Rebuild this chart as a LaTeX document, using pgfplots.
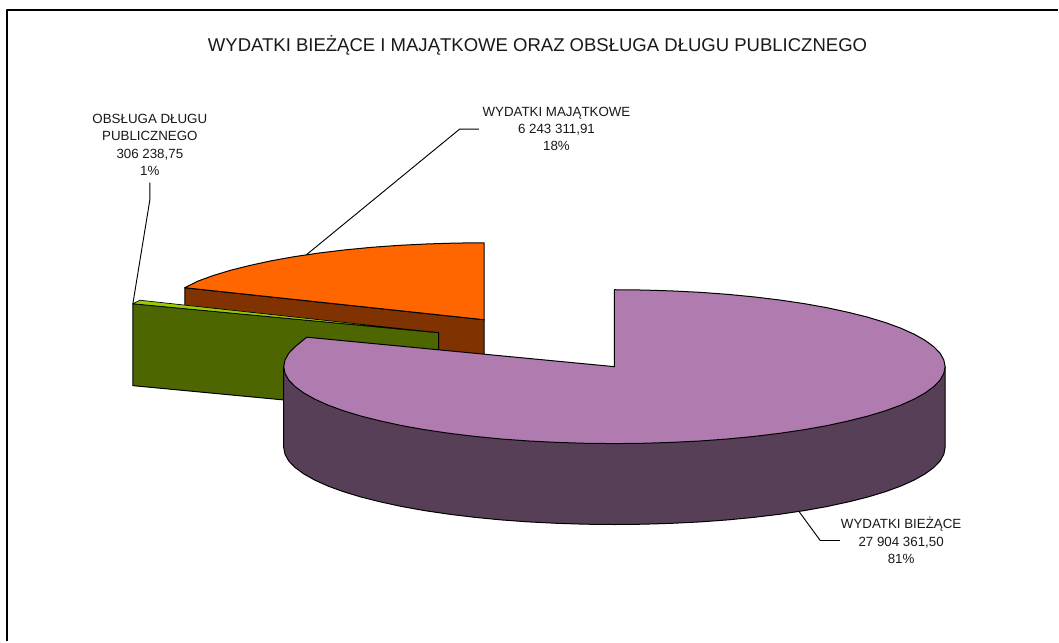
\documentclass[border=0pt]{standalone}
\usepackage{pgfplots}
\pgfplotsset{compat=1.18}
\usepackage{fontspec}
\setmainfont{Liberation Sans}
\definecolor{purpleT}{HTML}{B07CAF}
\definecolor{purpleS}{HTML}{583F58}
\definecolor{orangeT}{HTML}{FF6600}
\definecolor{orangeS}{HTML}{803300}
\definecolor{greenT}{HTML}{99CC00}
\definecolor{greenS}{HTML}{4D6600}
\newcommand{\lab}{\fontsize{10bp}{13.1bp}\selectfont}
\begin{document}
\begin{tikzpicture}
\begin{axis}[
  scale only axis, width=794.25bp, height=481.5bp,
  xmin=0, xmax=1059, ymin=0, ymax=642, y dir=reverse,
  hide axis, clip=false,
  every axis plot/.append style={line join=round},
]
% page extent
\addplot[draw=none, fill=white] coordinates {(0,0) (1059,0) (1059,642) (0,642)} --cycle;
% frame
\addplot[black, line width=1.5bp] coordinates {(7,642) (7,10) (1059,10)};
% orange side
\addplot[draw=black, fill=orangeS, line width=0.75bp] coordinates {(185,288) (484.5,320) (484.5,400) (185,368)} --cycle;
% orange top
\addplot[draw=black, fill=orangeT, line width=0.75bp] coordinates {(484.5,320) (484.5,243) (455.7,243.3) (427,244.2) (398.8,245.6) (371.3,247.6) (344.6,250.2) (319,253.3) (294.6,256.9) (271.7,261) (250.5,265.6) (230.9,270.5) (213.4,275.8) (197.8,281.5) (185,288)} --cycle;
% green side
\addplot[draw=black, fill=greenS, line width=0.75bp] coordinates {(133,304) (439,333) (439,415) (133,386)} --cycle;
% green top
\addplot[draw=black, fill=greenT, line width=0.5bp] coordinates {(133,304) (140,300.5) (439,333)} --cycle;
% purple side
\addplot[draw=black, fill=purpleS, line width=0.75bp] coordinates {(946,367) (946,448) (944.7,454.7) (941,461.4) (934.7,467.9) (926,474.3) (915,480.5) (901.7,486.5) (886.1,492.2) (868.6,497.5) (849,502.4) (827.8,507) (804.9,511.1) (780.5,514.7) (754.9,517.8) (728.2,520.4) (700.7,522.4) (672.5,523.8) (643.8,524.7) (615,525) (586.2,524.7) (557.5,523.8) (529.3,522.4) (501.8,520.4) (475.1,517.8) (449.5,514.7) (425.1,511.1) (402.2,507) (381,502.4) (361.4,497.5) (343.9,492.2) (328.3,486.5) (315,480.5) (304,474.3) (295.3,467.9) (289,461.4) (285.3,454.7) (284,448) (284,367)} --cycle;
% purple top
\addplot[draw=black, fill=purpleT, line width=0.75bp] coordinates {(615,367) (615,290) (643.8,290.3) (672.5,291.2) (700.7,292.6) (728.2,294.6) (754.9,297.2) (780.5,300.3) (804.9,303.9) (827.8,308) (849,312.6) (868.6,317.5) (886.1,322.8) (901.7,328.5) (915,334.5) (926,340.7) (934.7,347.1) (941,353.6) (944.7,360.3) (946,367) (944.7,373.7) (941,380.4) (934.7,386.9) (926,393.3) (915,399.5) (901.7,405.5) (886.1,411.2) (868.6,416.5) (849,421.4) (827.8,426) (804.9,430.1) (780.5,433.7) (754.9,436.8) (728.2,439.4) (700.7,441.4) (672.5,442.8) (643.8,443.7) (615,444) (586.2,443.7) (557.5,442.8) (529.3,441.4) (501.8,439.4) (475.1,436.8) (449.5,433.7) (425.1,430.1) (402.2,426) (381,421.4) (361.4,416.5) (343.9,411.2) (328.3,405.5) (315,399.5) (304,393.3) (295.3,386.9) (289,380.4) (285.3,373.7) (284,367) (285.3,360.3) (289,353.6) (295.3,347.1) (307,337.5)} --cycle;
% leaders
\addplot[black, line width=0.7bp] coordinates {(306.7,255) (460,129.3) (479.3,129.3)};
\addplot[black, line width=0.7bp] coordinates {(150,182.7) (150,200) (133,304)};
\addplot[black, line width=0.7bp] coordinates {(800,512.3) (821,541) (840.7,541)};
% text
\node[font=\fontsize{13.9bp}{16bp}\selectfont, text=black!90] at (axis cs:538,45) {WYDATKI BIEŻĄCE I MAJĄTKOWE ORAZ OBSŁUGA DŁUGU PUBLICZNEGO};
\node[font=\lab, align=center, inner sep=0pt, text=black!90] at (axis cs:557,129) {WYDATKI MAJĄTKOWE\\6 243 311,91\\18\%};
\node[font=\lab, align=center, inner sep=0pt, text=black!90] at (axis cs:150,145) {OBSŁUGA DŁUGU\\PUBLICZNEGO\\306 238,75\\1\%};
\node[font=\lab, align=center, inner sep=0pt, text=black!90] at (axis cs:902,541) {WYDATKI BIEŻĄCE\\27 904 361,50\\81\%};
\end{axis}
\end{tikzpicture}
\end{document}
